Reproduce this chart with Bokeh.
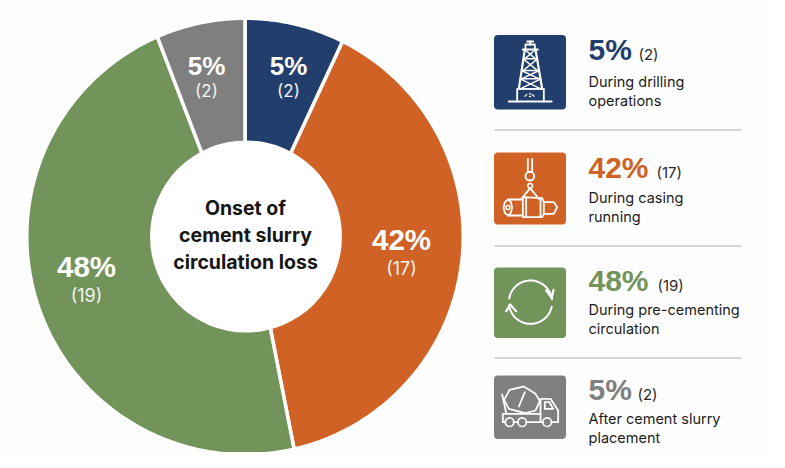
import math
from bokeh.plotting import figure
from bokeh.core.properties import value
from bokeh.embed import file_html
from bokeh.resources import INLINE

# ---- data
stages = ["During drilling\noperations", "During casing\nrunning",
          "During pre-cementing\ncirculation", "After cement slurry\nplacement"]
percent_labels = ["5%", "42%", "48%", "5%"]
count_labels = ["(2)", "(17)", "(19)", "(2)"]
# angular extent of each slice as drawn in the reference, at the outer rim (degrees)
slice_degrees = [26.6, 140.4, 169.3, 23.7]
# the reference's dividers are not quite radial: the same extents at the hole's rim
slice_degrees_inner = [29.0, 135.3, 168.1, 27.6]
colors = ["#223e6c", "#d06225", "#72945a", "#7f7f7f"]
center_title = ["Onset of", "cement slurry", "circulation loss"]

FONT = value("Inter")
NUM_FONT = value("Liberation Sans")
BG = "#fefefe"
W, H = 769, 452
p = figure(width=W, height=H, x_range=(0, 769), y_range=(16, 468), output_backend="svg",
           toolbar_location=None, min_border=0, outline_line_color=None,
           background_fill_color=BG, border_fill_color=BG)
p.axis.visible = False
p.grid.visible = False


def Y(y):
    return 468 - y


# ---- donut
CX, CY, R_OUT, R_IN = 244.5, 236, 216.5, 96


def pt(r, deg):
    t = math.radians(deg)
    return CX + r * math.sin(t), Y(CY) + r * math.cos(t)


xs, ys, a, b = [], [], 0.0, 0.0
for d, di in zip(slice_degrees, slice_degrees_inner):
    outer = [pt(R_OUT + 1.75, a + d * i / 60) for i in range(61)]
    inner = [pt(R_IN - 6, b + di), pt(R_IN - 6, b)]
    xs.append([q[0] for q in outer + inner])
    ys.append([q[1] for q in outer + inner])
    a += d
    b += di
p.patches(xs=xs, ys=ys, fill_color=colors, line_color=BG, line_width=3.5)
p.circle(x=[CX + 1], y=[Y(CY)], radius=R_IN, fill_color="white", line_color=None)


def txt(x, y, s, size, color, bold=False, align="left", font=FONT):
    # the page draws the given y at about mid-height of the capitals
    p.text(x=[x], y=[Y(y - 0.36 * size)], text=[s], text_font=font, text_font_size=f"{size}px",
           text_color=color, text_font_style="bold" if bold else "normal", text_align=align,
           text_baseline="alphabetic")


for y, s in zip([215, 242, 269], center_title):
    txt(245, y, s, 19.5, "#161616", True, "center")

# in-slice labels: (x, percent baseline, count baseline, size, count size)
slice_label_pos = [(288, 75, 97, 26, 17), (401, 250, 274, 29.5, 18), (86, 277, 301, 29.5, 18), (206, 75, 97, 26, 17)]
for (x, yb, yc, sz, cs), pl, cl in zip(slice_label_pos, percent_labels, count_labels):
    txt(x, yb, pl, sz, "white", True, "center", NUM_FONT)
    txt(x, yc, cl, cs, "#f2f2f2", False, "center")

# ---- right-hand rows
tile_y = [(34.5, 109), (152, 224), (267, 337.5), (375, 438.5)]
for (t, b), c in zip(tile_y, colors):
    p.quad(left=[493.5], right=[565.5], top=[Y(t)], bottom=[Y(b)], fill_color=c, line_color=None,
           border_radius=4)

for y in [129.5, 245.5, 357.5]:
    p.line([494, 741], [Y(y), Y(y)], line_color="#c9c9c9", line_width=1.3)

row_text = [
    (60, 638, 86, 105), (178, 656, 202, 221), (291, 657, 314, 333), (400, 637, 423, 442),
]
for (yb, xc, y1, y2), pl, cl, st, c in zip(row_text, percent_labels, count_labels, stages, colors):
    txt(588, yb, pl, 30, c, True, "left", NUM_FONT)
    txt(xc, yb - 1, cl, 15, "#2a2a2a")
    l1, l2 = st.split("\n")
    txt(588, y1, l1, 14.5, "#1c1c1c")
    txt(588, y2, l2, 14.5, "#1c1c1c")


# ---- icons (decoration), drawn in zoomed-crop coordinates: px = origin + z/3
def seg(pts, ox, oy, w=1.8):
    p.line([ox + a / 3 for a, _ in pts], [Y(oy + b / 3) for _, b in pts], line_color="white",
           line_width=w, line_join="round", line_cap="round")


def ring(cx, cy, r, ox, oy, w=1.8):
    p.circle(x=[ox + cx / 3], y=[Y(oy + cy / 3)], radius=r / 3, fill_color=None, line_color="white", line_width=w)


def arc(cx, cy, r, a0, a1, ox, oy, w=2):
    n = 40
    pts = []
    for i in range(n + 1):
        t = math.radians(a0 + (a1 - a0) * i / n)
        pts.append((cx + r * math.cos(t), cy + r * math.sin(t)))
    seg(pts, ox, oy, w)


# derrick
ox, oy = 485, 25
seg([(70, 228), (198, 228)], ox, oy, 2.2)
seg([(95, 228), (95, 190), (175, 190), (175, 228)], ox, oy)
seg([(118, 72), (100, 190)], ox, oy, 2.2)
seg([(150, 72), (170, 190)], ox, oy, 2.2)
seg([(112, 72), (157, 72)], ox, oy, 2.2)
seg([(120, 72), (120, 57), (148, 57), (148, 72)], ox, oy)
seg([(134, 57), (134, 48)], ox, oy)
seg([(125, 48), (143, 48)], ox, oy)
for a, b, l, r in [(72, 100, 118, 150), (100, 135, 113, 156), (135, 160, 108, 161), (160, 190, 104, 166)]:
    seg([(l, a), (r, b)], ox, oy, 1.5)
    seg([(r, a), (l, b)], ox, oy, 1.5)
    seg([(l, b), (r, b)], ox, oy, 1.5)
seg([(118, 212), (124, 207)], ox, oy, 1.3)
seg([(146, 212), (140, 207)], ox, oy, 1.3)
seg([(132, 205), (135, 205)], ox, oy, 1.3)
seg([(132, 213), (135, 213)], ox, oy, 1.3)

# hook and pipe
seg([(127, 400), (127, 440)], ox, oy)
seg([(140, 400), (140, 440)], ox, oy)
ring(133, 452, 13, ox, oy, 2)
ring(134, 481, 7, ox, oy, 1.6)
seg([(134, 488), (108, 520)], ox, oy)
seg([(134, 488), (160, 520)], ox, oy)
seg([(68, 522), (112, 522)], ox, oy)
seg([(68, 570), (112, 570)], ox, oy)
seg([(175, 530), (205, 530), (215, 545), (205, 565), (175, 565)], ox, oy)
seg([(112, 515), (170, 518), (175, 530), (175, 565), (170, 575), (112, 575), (112, 515)], ox, oy)
seg([(122, 518), (122, 573)], ox, oy)
seg([(165, 518), (165, 575)], ox, oy)
seg([(68, 522), (58, 530), (54, 546), (58, 562), (68, 570), (76, 562), (80, 546), (76, 530), (68, 522)], ox, oy)
ring(67, 546, 6, ox, oy, 1.4)

# circulation arrows
ox, oy = 485, 240
arc(135, 185, 65, 190, 352, ox, oy)
arc(135, 185, 65, 12, 172, ox, oy)
seg([(182, 150), (199, 172), (204, 148)], ox, oy, 2.2)
seg([(62, 212), (74, 192), (92, 212)], ox, oy, 2.2)

# mixer truck
seg([(72, 448), (115, 438), (150, 460), (163, 482), (150, 510), (120, 518), (70, 505), (56, 478), (72, 448)], ox, oy)
seg([(118, 455), (100, 498)], ox, oy)
seg([(50, 462), (62, 518)], ox, oy)
seg([(52, 520), (165, 520)], ox, oy)
seg([(52, 520), (52, 545), (60, 545)], ox, oy)
seg([(84, 545), (98, 545)], ox, oy)
seg([(122, 545), (172, 545)], ox, oy)
seg([(165, 545), (165, 475), (195, 475), (218, 510), (218, 545), (198, 545)], ox, oy)
seg([(178, 485), (192, 485), (203, 505), (178, 505), (178, 485)], ox, oy)
for cx in [72, 110, 185]:
    ring(cx, 545, 13, ox, oy, 1.7)

open("out.html", "w").write(file_html(p, INLINE))
